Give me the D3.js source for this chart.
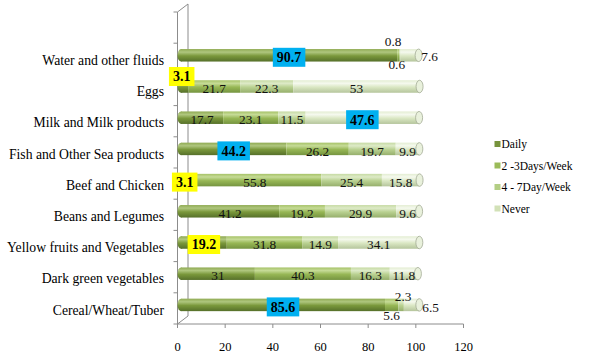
<!DOCTYPE html>
<html><head><meta charset="utf-8">
<script src="https://cdn.jsdelivr.net/npm/d3@7"></script>
<style>
html,body{margin:0;padding:0;background:#fff;}
svg{display:block;}
</style></head>
<body>
<svg id="chart" width="595" height="356"></svg>
<script>
// ---- data ----
const categories = ["Water and other fluids","Eggs","Milk and Milk products","Fish and Other Sea products","Beef and Chicken","Beans and Legumes","Yellow fruits and Vegetables","Dark green vegetables","Cereal/Wheat/Tuber"];
const seriesNames = ["Daily","2 -3Days/Week","4 - 7Day/Week","Never"];
const daily  = [90.7, 3.1, 17.7, 44.2, 3.1, 41.2, 19.2, 31, 85.6];
const days23 = [0.8, 21.7, 23.1, 26.2, 55.8, 19.2, 31.8, 40.3, 5.6];
const days47 = [0.6, 22.3, 11.5, 19.7, 25.4, 29.9, 14.9, 16.3, 2.3];
const never  = [7.6, 53, 47.6, 9.9, 15.8, 9.6, 34.1, 11.8, 6.5];
const xTicks = [0, 20, 40, 60, 80, 100, 120];
const seriesValues = [daily, days23, days47, never];

// highlighted labels [category, series, box colour]
const highlights = [
  ["Water and other fluids", 0, "#00B0F0"],
  ["Eggs", 0, "#FFFF00"],
  ["Milk and Milk products", 3, "#00B0F0"],
  ["Fish and Other Sea products", 0, "#00B0F0"],
  ["Beef and Chicken", 0, "#FFFF00"],
  ["Yellow fruits and Vegetables", 0, "#FFFF00"],
  ["Cereal/Wheat/Tuber", 0, "#00B0F0"]
];
// label nudges (layout)
const nudges = {
  "Water and other fluids|1": [-5, -16],
  "Water and other fluids|2": [-3, 7],
  "Water and other fluids|3": [20, -1],
  "Eggs|0": [-3, -12],
  "Cereal/Wheat/Tuber|1": [0, 8],
  "Cereal/Wheat/Tuber|2": [2, -11],
  "Cereal/Wheat/Tuber|3": [19, 0]
};

const FONT = "Liberation Serif";

// ---- layout ----
const svg = d3.select("#chart");
const x = d3.scaleLinear().domain([0, 120]).range([177.5, 463.5]);
const yTop = 12, yBot = 324;
const step = (yBot - yTop) / 10;
const y = d3.scaleBand().domain(categories).range([yTop + step, yBot]);
const dx = 3.5, dy = -3.5, barH = 12.5;
const depthX = 10.5, depthY = -8;
const axisColor = "#8c8c8c";

// gradients
const gradStops = [
  ["#8FAA52", "#AFC67E", "#7A983B", "#56702A"],
  ["#A6C267", "#C6DB97", "#97B755", "#759440"],
  ["#C6DAA3", "#DDEAC7", "#B9D191", "#96AF6C"],
  ["#E3EDD2", "#F5F9EE", "#DAE7C3", "#B5C59C"]
];
const legendColors = ["#77933C", "#9BBB59", "#B3CE84", "#D2E1B7"];
const defs = svg.append("defs");
gradStops.forEach((s, i) => {
  const g = defs.append("linearGradient").attr("id", "g" + i)
    .attr("x1", 0).attr("y1", 0).attr("x2", 0).attr("y2", 1);
  [[0, s[0]], [0.25, s[1]], [0.55, s[2]], [1, s[3]]].forEach(([o, c]) =>
    g.append("stop").attr("offset", o).attr("stop-color", c));
});

// back wall / axes frame
const frame = svg.append("g").attr("stroke", axisColor).attr("fill", "none").attr("stroke-width", 1);
frame.append("path").attr("d",
  `M${x(0)},${yTop}L${x(0)+depthX},${yTop+depthY}L${x(0)+depthX},${yBot+depthY}L${x(0)},${yBot}`);
frame.append("line").attr("x1", x(0)).attr("x2", x(0)).attr("y1", yTop).attr("y2", yBot);
d3.range(11).forEach(k => {
  const yy = yTop + k * step;
  frame.append("line").attr("x1", x(0) - 4).attr("x2", x(0)).attr("y1", yy).attr("y2", yy);
});
frame.append("line").attr("x1", x(0)).attr("x2", x(120)).attr("y1", yBot).attr("y2", yBot);
xTicks.forEach(t => {
  frame.append("line").attr("x1", x(t)).attr("x2", x(t)).attr("y1", yBot).attr("y2", yBot + 4);
});
svg.append("g").selectAll("text").data(xTicks).join("text")
  .attr("font-family", FONT)
  .attr("x", d => x(d)).attr("y", 347).attr("dy", "0.35em")
  .attr("text-anchor", "middle").attr("font-size", 12.5).attr("fill", "#000")
  .text(d => d);

// category labels
svg.append("g").selectAll("text").data(categories).join("text")
  .attr("font-family", FONT)
  .attr("x", 164).attr("y", d => y(d) + y.bandwidth() / 2 + 1.5).attr("dy", "0.35em")
  .attr("text-anchor", "end").attr("font-size", 13.7).attr("fill", "#000")
  .text(d => d);

// bars
const bars = svg.append("g");
const labelData = [];
categories.forEach((cat, ci) => {
  const cy = y(cat) + y.bandwidth() / 2 + dy;
  let acc = 0;
  const segs = seriesValues.map((arr, si) => {
    const v = arr[ci];
    const s = { si, v, x0: x(acc) + dx, x1: x(acc + v) + dx };
    acc += v;
    return s;
  });
  const g = bars.append("g");
  g.append("ellipse").attr("cx", segs[0].x0).attr("cy", cy).attr("rx", 3.5).attr("ry", barH / 2)
    .attr("fill", "url(#g0)");
  segs.forEach(s => {
    g.append("rect").attr("x", s.x0).attr("y", cy - barH / 2)
      .attr("width", Math.max(0, s.x1 - s.x0)).attr("height", barH)
      .attr("fill", `url(#g${s.si})`);
  });
  const last = segs[segs.length - 1];
  g.append("ellipse").attr("cx", last.x1).attr("cy", cy).attr("rx", 3.5).attr("ry", barH / 2)
    .attr("fill", "#E9F1DC").attr("stroke", "#a3ab95").attr("stroke-width", 0.8);
  segs.forEach(s => {
    const key = cat + "|" + s.si;
    const n = nudges[key] || [0, 0];
    const h = highlights.find(hh => hh[0] === cat && hh[1] === s.si);
    labelData.push({ x: (s.x0 + s.x1) / 2 + n[0], y: cy + 2 + n[1], v: s.v, hl: h ? h[2] : null });
  });
});

// value labels
const lg = svg.append("g");
labelData.forEach(d => {
  if (d.hl) {
    const t = lg.append("text").attr("font-family", FONT).attr("x", d.x).attr("y", d.y).attr("dy", "0.35em")
      .attr("text-anchor", "middle").attr("font-size", 14).attr("font-weight", "bold").text(d.v);
    const bb = t.node().getBBox();
    lg.insert("rect", () => t.node())
      .attr("x", bb.x - 4).attr("y", d.y - 9.5).attr("width", bb.width + 8).attr("height", 19)
      .attr("fill", d.hl);
  } else {
    lg.append("text").attr("font-family", FONT).attr("x", d.x).attr("y", d.y).attr("dy", "0.35em")
      .attr("text-anchor", "middle").attr("font-size", 13.3).attr("fill", "#111").text(d.v);
  }
});

// legend
const leg = svg.append("g");
const legY = [144, 165.5, 187, 208.5];
seriesNames.forEach((name, i) => {
  leg.append("rect").attr("x", 494.5).attr("y", legY[i] - 3).attr("width", 6).attr("height", 6)
    .attr("fill", legendColors[i]);
  leg.append("text").attr("font-family", FONT).attr("x", 501.5).attr("y", legY[i]).attr("dy", "0.35em")
    .attr("font-size", 11.5).attr("fill", "#000").text(name);
});
</script>
</body></html>
